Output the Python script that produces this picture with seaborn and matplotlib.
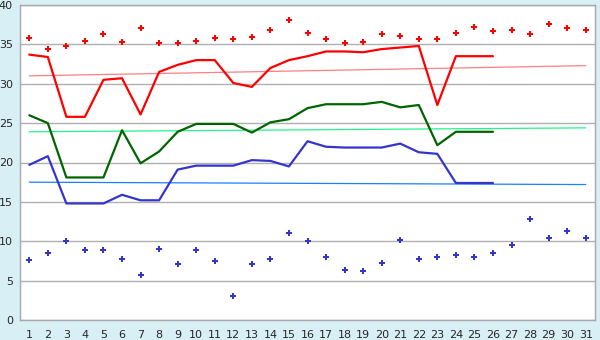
import numpy as np
import pandas as pd
import matplotlib
matplotlib.use("Agg")
import matplotlib.pyplot as plt
import seaborn as sns

days = list(range(1, 32))
line_days = list(range(1, 27))

max_points = [35.8, 34.4, 34.8, 35.4, 36.3, 35.3, 37.1, 35.2, 35.2, 35.4,
              35.8, 35.7, 35.9, 36.8, 38.1, 36.4, 35.7, 35.2, 35.3, 36.3,
              36.1, 35.7, 35.7, 36.4, 37.2, 36.7, 36.8, 36.3, 37.6, 37.1, 36.8]
min_points = [7.6, 8.5, 10.0, 8.9, 8.9, 7.8, 5.7, 9.0, 7.1, 8.9,
              7.5, 3.0, 7.1, 7.8, 11.0, 10.0, 8.0, 6.4, 6.2, 7.3,
              10.1, 7.8, 8.0, 8.2, 8.0, 8.5, 9.5, 12.8, 10.4, 11.3, 10.4]
red_line = [33.7, 33.4, 25.8, 25.8, 30.5, 30.7, 26.1, 31.5, 32.4, 33.0,
            33.0, 30.1, 29.6, 32.0, 33.0, 33.5, 34.1, 34.1, 34.0, 34.4,
            34.6, 34.8, 27.3, 33.5, 33.5, 33.5]
green_line = [26.0, 25.0, 18.1, 18.1, 18.1, 24.1, 19.9, 21.4, 23.9, 24.9,
              24.9, 24.9, 23.8, 25.1, 25.5, 26.9, 27.4, 27.4, 27.4, 27.7,
              27.0, 27.3, 22.2, 23.9, 23.9, 23.9]
blue_line = [19.7, 20.8, 14.8, 14.8, 14.8, 15.9, 15.2, 15.2, 19.1, 19.6,
             19.6, 19.6, 20.3, 20.2, 19.5, 22.7, 22.0, 21.9, 21.9, 21.9,
             22.4, 21.3, 21.1, 17.4, 17.4, 17.4]
trend_days = [1, 31]
red_trend = [31.0, 32.3]
green_trend = [23.9, 24.4]
blue_trend = [17.5, 17.2]
y_ticks = [0, 5, 10, 15, 20, 25, 30, 35, 40]

sns.set_style("white")
plt.rcParams["font.family"] = ["DejaVu Sans"]

bg = "#d9eff6"
fig = plt.figure(figsize=(6, 3.4), dpi=100, facecolor=bg)
ax = fig.add_axes([20 / 600, 20 / 340, 575 / 600, 315 / 340])
ax.set_facecolor("white")

for yv in y_ticks:
    ax.axhline(yv, color="#b0b0b0", lw=1.0, zorder=0)

sns.lineplot(x=trend_days, y=red_trend, ax=ax, color="#ff8080", lw=0.9)
sns.lineplot(x=trend_days, y=green_trend, ax=ax, color="#22f58a", lw=0.9)
sns.lineplot(x=trend_days, y=blue_trend, ax=ax, color="#1a80ff", lw=0.9)

sns.lineplot(x=line_days, y=red_line, ax=ax, color="#ff0000", lw=1.6)
sns.lineplot(x=line_days, y=green_line, ax=ax, color="#006400", lw=1.6)
sns.lineplot(x=line_days, y=blue_line, ax=ax, color="#3535cc", lw=1.6)

sns.scatterplot(x=days, y=max_points, ax=ax, color="#ff0000", marker="P",
                s=15, linewidth=0)
sns.scatterplot(x=days, y=min_points, ax=ax, color="#3535cc", marker="P",
                s=15, linewidth=0)

ax.set_xlim(0.5, 31.5)
ax.set_ylim(0, 40)
ax.set_xticks(days)
ax.set_xticklabels([str(d) for d in days], fontsize=8)
ax.set_yticks(y_ticks)
ax.set_yticklabels([str(v) for v in y_ticks], fontsize=8)
ax.tick_params(axis="x", length=5, width=0.8, color="#000000", pad=2)
ax.tick_params(axis="y", length=3, width=0.8, color="#404040", pad=2)
for sp in ax.spines.values():
    sp.set_visible(True)
    sp.set_color("#a8a8a8")
    sp.set_linewidth(1.0)

fig.savefig("out.png", dpi=100, facecolor=bg)
